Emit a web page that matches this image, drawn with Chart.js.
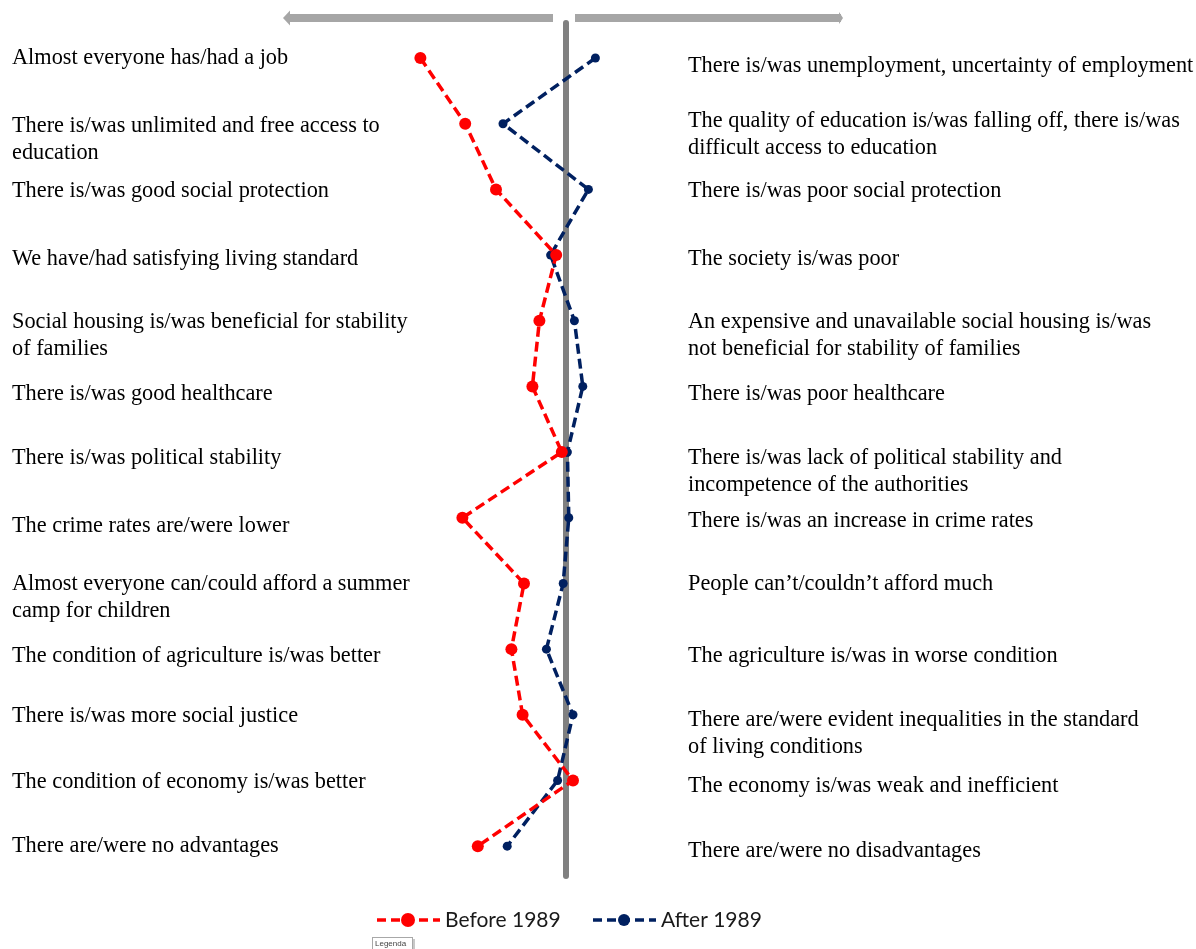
<!DOCTYPE html>
<html>
<head>
<meta charset="utf-8">
<style>
  html, body { margin: 0; padding: 0; background: #ffffff; }
  #wrap { width: 1196px; height: 949px; }
</style>
<script src="https://cdn.jsdelivr.net/npm/chart.js@4.4.1/dist/chart.umd.min.js"></script>
</head>
<body>
<div id="wrap"><canvas id="c" width="1196" height="949"></canvas></div>
<script>
// ---- data ----
const seriesNames = ["Before 1989", "After 1989"];

const leftLabels = [
  "Almost everyone has/had a job",
  ["There is/was unlimited and free access to", "education"],
  "There is/was good social protection",
  "We have/had satisfying living standard",
  ["Social housing is/was beneficial for stability", "of families"],
  "There is/was good healthcare",
  "There is/was political stability",
  "The crime rates are/were lower",
  ["Almost everyone can/could afford a summer", "camp for children"],
  "The condition of agriculture is/was better",
  "There is/was more social justice",
  "The condition of economy is/was better",
  "There are/were no advantages"
];

const rightLabels = [
  "There is/was unemployment, uncertainty of employment",
  ["The quality of education is/was falling off, there is/was", "difficult access to education"],
  "There is/was poor social protection",
  "The society is/was poor",
  ["An expensive and unavailable social housing is/was", "not beneficial for stability of families"],
  "There is/was poor healthcare",
  ["There is/was lack of political stability and", "incompetence of the authorities"],
  "There is/was an increase in crime rates",
  "People can\u2019t/couldn\u2019t afford much",
  "The agriculture is/was in worse condition",
  ["There are/were evident inequalities in the standard", "of living conditions"],
  "The economy is/was weak and inefficient",
  "There are/were no disadvantages"
];

// mean position on the scale (negative = left statement, positive = right statement)
const beforeValues = [-1.04, -0.72, -0.50, -0.07, -0.19, -0.24, -0.03, -0.74, -0.30, -0.39, -0.31, 0.05, -0.63];
const afterValues  = [ 0.21, -0.45,  0.16, -0.11,  0.06,  0.12,  0.01,  0.02, -0.02, -0.14,  0.05, -0.06, -0.42];

// ---- layout / style (not data) ----
const leftNudge  = [0, 2, 2, 4, 1, 8, 6, 8, 1, 7, 1, 2, 0];
const rightNudge = [8, -3, 2, 4, 1, 8, 6, 3, 1, 7, 5, 6, 5];
const RED = "#FF0000";
const NAVY = "#002060";
const serif = '22.3px "Liberation Serif", "Times New Roman", serif';

function toPoints(vals) { return vals.map((v, i) => ({ x: v, y: i })); }

const decorPlugin = {
  id: "decor",
  beforeDatasetsDraw(chart) {
    const ctx = chart.ctx;
    const xs = chart.scales.x;
    const ca = chart.chartArea;
    const cx = xs.getPixelForValue(0);
    ctx.save();
    // top arrows
    ctx.fillStyle = "#A6A6A6";
    const ay = 18;
    const lx = xs.getPixelForValue(xs.min);
    const rx = xs.getPixelForValue(xs.max);
    ctx.fillRect(lx + 3, ay - 4, (cx - 13) - (lx + 3), 8);
    ctx.beginPath();
    ctx.moveTo(lx - 3, ay);
    ctx.lineTo(lx + 4, ay - 7.5);
    ctx.lineTo(lx + 4, ay + 7.5);
    ctx.closePath();
    ctx.fill();
    ctx.fillRect(cx + 9, ay - 4, (rx - 5) - (cx + 9), 8);
    ctx.beginPath();
    ctx.moveTo(rx - 3, ay);
    ctx.lineTo(rx - 7, ay - 6);
    ctx.lineTo(rx - 7, ay + 6);
    ctx.closePath();
    ctx.fill();
    // central vertical line
    ctx.strokeStyle = "#808080";
    ctx.lineWidth = 6;
    ctx.lineCap = "round";
    ctx.beginPath();
    ctx.moveTo(cx, ca.top + 3);
    ctx.lineTo(cx, ca.bottom - 3);
    ctx.stroke();
    ctx.restore();
  },
  afterDraw(chart) {
    const ctx = chart.ctx;
    const ys = chart.scales.y;
    ctx.save();
    ctx.font = serif;
    ctx.fillStyle = "#000000";
    ctx.textAlign = "left";
    ctx.textBaseline = "middle";
    const lh = 27;
    leftLabels.forEach((lab, i) => {
      const lines = Array.isArray(lab) ? lab : [lab];
      const y0 = ys.getPixelForValue(i) + leftNudge[i];
      lines.forEach((t, k) => ctx.fillText(t, 12, y0 + k * lh));
    });
    rightLabels.forEach((lab, i) => {
      const lines = Array.isArray(lab) ? lab : [lab];
      const y0 = ys.getPixelForValue(i) + rightNudge[i];
      lines.forEach((t, k) => ctx.fillText(t, 688, y0 + k * lh));
    });

    // legend
    const legY = 920;
    const items = [
      { x: 377, color: RED, r: 7, label: chart.data.datasets[0].label },
      { x: 593, color: NAVY, r: 6, label: chart.data.datasets[1].label }
    ];
    items.forEach(it => {
      ctx.strokeStyle = it.color;
      ctx.lineWidth = 3.5;
      ctx.setLineDash([9, 5]);
      ctx.beginPath();
      ctx.moveTo(it.x, legY);
      ctx.lineTo(it.x + 63, legY);
      ctx.stroke();
      ctx.setLineDash([]);
      ctx.fillStyle = it.color;
      ctx.beginPath();
      ctx.arc(it.x + 31, legY, it.r, 0, Math.PI * 2);
      ctx.fill();
      ctx.fillStyle = "#1a1a1a";
      ctx.font = '21px Lato, "Liberation Sans", sans-serif';
      ctx.textBaseline = "middle";
      ctx.fillText(it.label, it.x + 68, legY);
    });

    // small "Legenda" tag
    ctx.fillStyle = "#ffffff";
    ctx.fillRect(372.5, 937.5, 40, 13);
    ctx.strokeStyle = "#A8A8A8";
    ctx.lineWidth = 1;
    ctx.strokeRect(372.5, 937.5, 40, 13);
    ctx.fillStyle = "#C8C8C8";
    ctx.fillRect(413, 939, 2, 10);
    ctx.fillStyle = "#444444";
    ctx.font = '8px "Liberation Sans", sans-serif';
    ctx.textBaseline = "middle";
    ctx.fillText("Legenda", 375, 944);
    ctx.restore();
  }
};

new Chart(document.getElementById("c"), {
  type: "scatter",
  data: {
    datasets: [
      {
        label: seriesNames[0],
        data: toPoints(beforeValues),
        showLine: true,
        borderColor: RED,
        backgroundColor: RED,
        borderWidth: 3.5,
        borderDash: [10, 5],
        pointRadius: 6,
        pointHoverRadius: 6,
        pointBorderWidth: 0,
        tension: 0
      },
      {
        label: seriesNames[1],
        data: toPoints(afterValues),
        showLine: true,
        borderColor: NAVY,
        backgroundColor: NAVY,
        borderWidth: 3.5,
        borderDash: [10, 5],
        pointRadius: 4.5,
        pointHoverRadius: 4.5,
        pointBorderWidth: 0,
        tension: 0
      }
    ]
  },
  options: {
    responsive: false,
    animation: false,
    layout: { padding: { left: 286, right: 350, top: 20, bottom: 70 } },
    plugins: { legend: { display: false }, tooltip: { enabled: false } },
    scales: {
      x: { type: "linear", min: -2, max: 2, display: false },
      y: { type: "linear", min: -0.579, max: 12.5, reverse: true, display: false }
    }
  },
  plugins: [decorPlugin]
});
</script>
</body>
</html>
